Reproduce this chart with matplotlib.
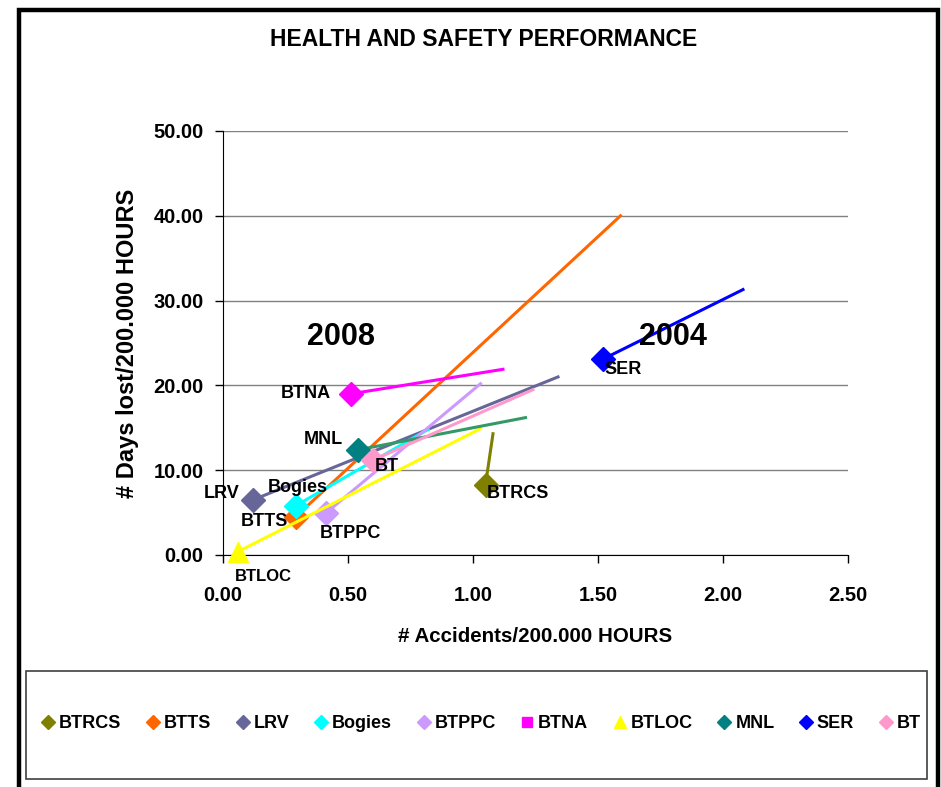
import matplotlib
matplotlib.use("Agg")
import matplotlib.pyplot as plt
from matplotlib.lines import Line2D
from matplotlib.patches import Rectangle

plt.rcParams['font.family'] = ['Liberation Sans', 'DejaVu Sans']
plt.rcParams['font.weight'] = 'bold'

series = ["BTRCS", "BTTS", "LRV", "Bogies", "BTPPC", "BTNA", "BTLOC", "MNL", "SER", "BT"]
x2008 = [1.05, 0.29, 0.12, 0.29, 0.41, 0.51, 0.06, 0.54, 1.52, 0.60]
y2008 = [8.3, 4.5, 6.5, 5.8, 4.9, 19.0, 0.4, 12.4, 23.1, 11.2]
x2004 = [1.08, 1.59, 1.34, 0.82, 1.03, 1.12, 1.03, 1.21, 2.08, 1.24]
y2004 = [14.3, 40.0, 21.0, 14.8, 20.2, 21.9, 14.9, 16.2, 31.3, 19.5]
colors = ["#808000", "#FF6600", "#666699", "#00FFFF", "#CC99FF", "#FF00FF", "#FFFF00", "#008080", "#0000FF", "#FF99CC"]
line_colors = ["#808000", "#FF6600", "#666699", "#00FFFF", "#CC99FF", "#FF00FF", "#FFFF00", "#339966", "#0000FF", "#FF99CC"]
legend_markers = ["D", "D", "D", "D", "D", "s", "^", "D", "D", "D"]
plot_markers = ["D", "D", "D", "D", "D", "D", "^", "D", "D", "D"]

label_pos = {
    "BTRCS": (1.18, 7.2), "BTTS": (0.165, 3.9), "LRV": (-0.005, 7.2), "Bogies": (0.30, 8.0),
    "BTPPC": (0.51, 2.5), "BTNA": (0.33, 19.1), "BTLOC": (0.16, -2.5), "MNL": (0.40, 13.6),
    "SER": (1.60, 21.9), "BT": (0.655, 10.4),
}
year_labels = ["2008", "2004"]
year_x = [0.47, 1.80]
year_y = [25.7, 25.7]

xticks = [0.0, 0.5, 1.0, 1.5, 2.0, 2.5]
yticks = [0, 10, 20, 30, 40, 50]

W, H = 941, 787
fig = plt.figure(figsize=(W / 100, H / 100), dpi=100)
fig.patches.append(Rectangle((19 / W, -10 / H), (938 - 19) / W, (787 - 10 + 10) / H, transform=fig.transFigure,
                             fill=False, edgecolor="black", linewidth=3.2))
ax = fig.add_axes([223 / W, 1 - 555 / H, (848 - 223) / W, (555 - 131) / H])

for i, name in enumerate(series):
    ax.plot([x2008[i], x2004[i]], [y2008[i], y2004[i]], color=line_colors[i], linewidth=2.2,
            marker=plot_markers[i], markevery=[0], markersize=12 if plot_markers[i] == "D" else 14,
            markerfacecolor=colors[i], markeredgecolor=colors[i], zorder=3, clip_on=False)
    lx, ly = label_pos[name]
    fs = 12 if name == "BTLOC" else 13
    ax.text(lx, ly, name, fontsize=fs, fontweight="bold", ha="center", va="center", zorder=4)

for t, xx, yy in zip(year_labels, year_x, year_y):
    ax.text(xx, yy, t, fontsize=22, fontweight="bold", ha="center", va="center")

ax.set_xlim(0, 2.5)
ax.set_ylim(0, 50)
ax.set_xticks(xticks)
ax.set_yticks(yticks)
ax.set_xticklabels([f"{v:.2f}" for v in xticks], fontsize=14.5, fontweight="bold")
ax.set_yticklabels([f"{v:.2f}" for v in yticks], fontsize=14.5, fontweight="bold")
ax.yaxis.grid(True, color="#808080", linewidth=1)
ax.set_axisbelow(True)
for s in ["top", "right"]:
    ax.spines[s].set_visible(False)
ax.spines["left"].set_color("black")
ax.spines["bottom"].set_color("black")
ax.tick_params(direction="out", length=6, width=1)
ax.tick_params(axis="x", pad=16)
ax.tick_params(axis="y", pad=8)
ax.set_xlabel("# Accidents/200.000 HOURS", fontsize=14.8, fontweight="bold", labelpad=16)
ax.set_ylabel("# Days lost/200.000 HOURS", fontsize=17, fontweight="bold", labelpad=10)

fig.text(484 / W, 1 - 40 / H, "HEALTH AND SAFETY PERFORMANCE", fontsize=16.5, fontweight="bold",
         ha="center", va="center")

handles = [Line2D([], [], linestyle="none", marker=legend_markers[i], color=colors[i],
                  markersize=7.5 if legend_markers[i] != "^" else 8.5) for i in range(len(series))]
leg = fig.legend(handles, series, loc="center", bbox_to_anchor=(480 / W, 1 - 724 / H),
                 ncol=10, fontsize=13, frameon=False, handletextpad=0.1, columnspacing=1.25,
                 handlelength=1.0)
for t in leg.get_texts():
    t.set_fontweight("bold")
fig.patches.append(Rectangle((26 / W, 1 - 779 / H), (927 - 26) / W, (779 - 671) / H,
                             transform=fig.transFigure, fill=False, edgecolor="#404040", linewidth=1.2))

fig.savefig("out.png", dpi=100)
